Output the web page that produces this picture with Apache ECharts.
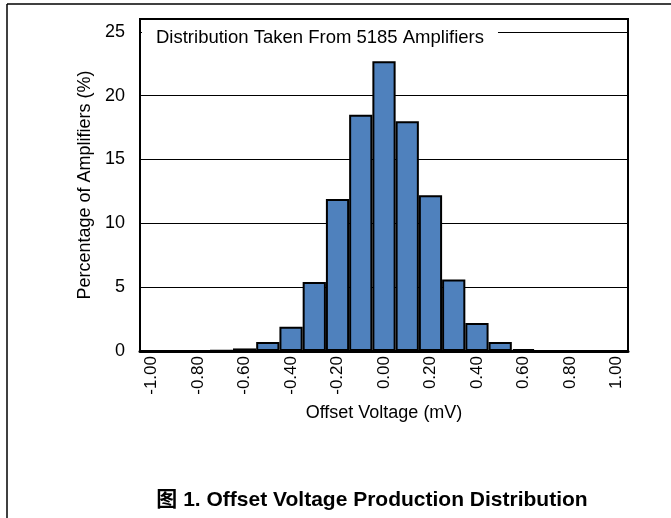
<!DOCTYPE html>
<html>
<head>
<meta charset="utf-8">
<script src="https://cdn.jsdelivr.net/npm/echarts@6/dist/echarts.min.js"></script>
<style>
  html, body { margin: 0; padding: 0; background: #fff; }
  #offsetChart { width: 671px; height: 518px; }
</style>
</head>
<body>
<div id="offsetChart"></div>
<script>
// bins of offset voltage (mV), one every 0.10
var categories = ['-1.00', '-0.90', '-0.80', '-0.70', '-0.60', '-0.50', '-0.40', '-0.30', '-0.20', '-0.10', '0.00',
  '0.10', '0.20', '0.30', '0.40', '0.50', '0.60', '0.70', '0.80', '0.90', '1.00']
// percentage of amplifiers per bin
var percentValues = [0, 0, 0, 0.05, 0.2, 0.7, 1.9, 5.4, 11.9, 18.5, 22.7,
  18.0, 12.2, 5.6, 2.2, 0.7, 0.15, 0, 0, 0, 0]
var yTicks = [0, 5, 10, 15, 20, 25]

var font = 'Liberation Sans, Arial, sans-serif'
var chart = echarts.init(document.getElementById('offsetChart'))

chart.setOption({
  backgroundColor: '#fff',
  animation: false,
  textStyle: { fontFamily: font, color: '#000' },
  title: {
    text: 'Distribution Taken From 5185 Amplifiers',
    left: 142,
    top: 21,
    padding: [7, 14, 6, 14],
    backgroundColor: '#fff',
    textStyle: { fontFamily: font, fontSize: 18.5, fontWeight: 'normal', color: '#000', lineHeight: 20 }
  },
  grid: {
    left: 140, right: 43, top: 19, bottom: 167,
    show: true, borderColor: '#000', borderWidth: 2
  },
  xAxis: {
    type: 'category',
    data: categories,
    boundaryGap: true,
    name: 'Offset Voltage (mV)',
    nameLocation: 'middle',
    nameGap: 53,
    nameTextStyle: { fontFamily: font, fontSize: 18, color: '#000' },
    axisLine: { lineStyle: { color: '#000', width: 3 } },
    axisTick: { interval: 0, length: 6, lineStyle: { color: '#000', width: 2 } },
    axisLabel: { interval: 1, rotate: 90, margin: 5, fontFamily: font, fontSize: 17, color: '#000' },
    splitLine: { show: false }
  },
  yAxis: {
    type: 'value',
    min: yTicks[0],
    max: 26,
    interval: 5,
    name: 'Percentage of Amplifiers (%)',
    nameLocation: 'middle',
    nameGap: 45,
    nameTextStyle: { fontFamily: font, fontSize: 18, color: '#000' },
    axisLine: { show: true, lineStyle: { color: '#000', width: 2 } },
    axisTick: { show: false },
    axisLabel: { margin: 15, showMaxLabel: false, fontFamily: font, fontSize: 18, color: '#000' },
    splitLine: { show: true, lineStyle: { color: '#000', width: 1 } }
  },
  series: [{
    type: 'bar',
    data: percentValues,
    barCategoryGap: 0,
    itemStyle: { color: '#4F81BD', borderColor: '#000', borderWidth: 2 }
  }],
  graphic: [
    { type: 'line', shape: { x1: 7, y1: 4, x2: 671, y2: 4 }, style: { stroke: '#000', lineWidth: 1.5 } },
    { type: 'line', shape: { x1: 7, y1: 4, x2: 7, y2: 518 }, style: { stroke: '#000', lineWidth: 1.5 } },
    {
      type: 'text', x: 372, y: 500,
      style: {
        text: '图 1. Offset Voltage Production Distribution',
        font: 'bold 21px "Liberation Sans", "Noto Sans CJK SC", Arial, sans-serif',
        fill: '#000', align: 'center', verticalAlign: 'middle'
      }
    }
  ]
})

window.addEventListener('resize', () => { chart.resize() })
</script>
</body>
</html>
